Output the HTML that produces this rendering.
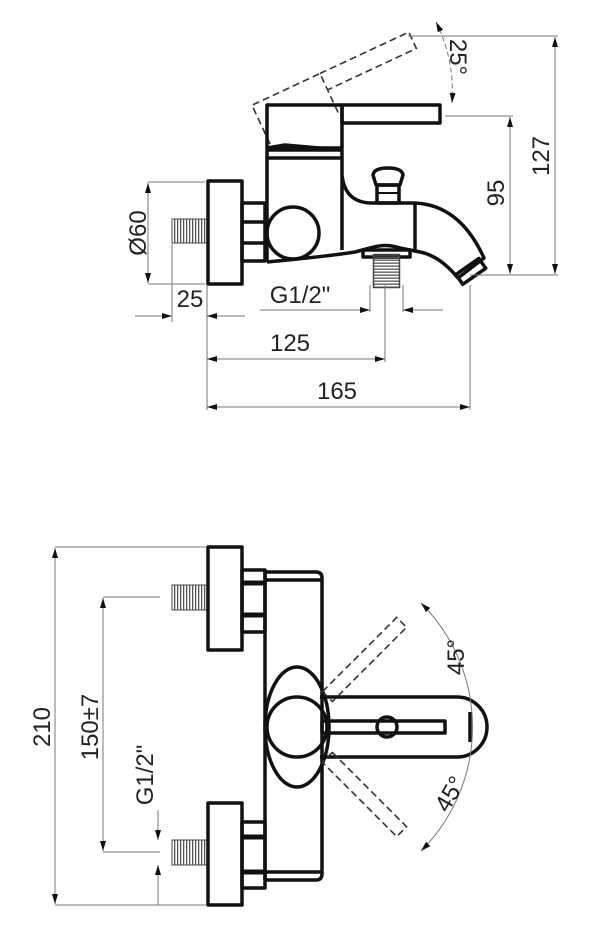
<!DOCTYPE html>
<html><head><meta charset="utf-8"><style>
body{margin:0;background:#fff}
svg{display:block}
text{font-family:"Liberation Sans",sans-serif;font-size:24px;fill:#222}
.o{fill:none;stroke:#111;stroke-width:3.5;stroke-linejoin:round}
.d{fill:none;stroke:#777;stroke-width:1}
.ds{fill:none;stroke:#333;stroke-width:1.6;stroke-dasharray:7 4}
</style></head><body>
<svg width="600" height="950" viewBox="0 0 600 950">
<defs>
<marker id="a" viewBox="0 0 10 6" refX="10" refY="3" markerWidth="14" markerHeight="6" markerUnits="userSpaceOnUse" orient="auto-start-reverse"><path d="M0,0L10,3L0,6z" fill="#111"/></marker>
<pattern id="th" width="3" height="4" patternUnits="userSpaceOnUse"><rect width="1.3" height="4" fill="#555"/></pattern>
</defs>

<g transform="rotate(-25 260 139)">
<path class="ds" d="M267,148 L267,105 L342,105 L342,148 M342,105 L440,105 L440,123 L342,123"/>
</g>
<rect class="o" x="267" y="105" width="75" height="43"/>
<rect class="o" x="342" y="105" width="98" height="18"/>
<path class="o" d="M267,148 L285,145 L342,150"/>
<rect class="o" x="267" y="150" width="75" height="8"/>
<rect x="172" y="219" width="35" height="24" fill="url(#th)" stroke="#444" stroke-width="1"/>
<rect class="o" x="208" y="181" width="34" height="103"/>
<rect class="o" x="242" y="203" width="23" height="58"/>
<line class="o" x1="242" y1="222" x2="265" y2="222" stroke-width="2"/>
<line class="o" x1="242" y1="243" x2="265" y2="243" stroke-width="2"/>
<path class="o" d="M267,158 L267,262 M342,158 L342,250 M342,175 Q345,203 372,203 L415,203 Q460,205 484,258 L458,278 Q440,256 420,252 L400,248 Q385,243 370,248 L355,252 Q330,256 267,262"/>
<line class="o" x1="415" y1="203" x2="415" y2="252"/>
<circle class="o" cx="293" cy="233" r="26"/>
<g transform="rotate(-35 470 272)"><rect class="o" x="457" y="266" width="28" height="12"/></g>
<path class="o" d="M376,185 L373,175 Q374,168 388,168 Q402,168 403,175 L400,185 Z"/>
<rect class="o" x="377" y="185" width="22" height="18"/>
<line x1="378" y1="193" x2="398" y2="193" stroke="#111" stroke-width="2"/>
<rect class="o" x="363" y="250" width="47" height="7"/>
<rect x="370" y="258" width="33" height="26" fill="url(#th)" stroke="#444" stroke-width="1.5" transform="rotate(90 386.5 271)"/>
<path class="d" d="M148,182 L205,182 M148,284 L205,284"/>
<line class="d" x1="148" y1="183" x2="148" y2="283" marker-start="url(#a)" marker-end="url(#a)"/>
<text transform="translate(146,233) rotate(-90)" text-anchor="middle">Ø60</text>
<path class="d" d="M172,244 L172,322 M207,286 L207,410"/>
<line class="d" x1="135" y1="316" x2="172" y2="316" marker-end="url(#a)"/>
<line class="d" x1="245" y1="316" x2="207" y2="316" marker-end="url(#a)"/>
<text x="190" y="307" text-anchor="middle">25</text>
<path class="d" d="M370,285 L370,312 M403,285 L403,312 M385,285 L385,362 M470,285 L470,410"/>
<line class="d" x1="260" y1="310" x2="370" y2="310" marker-end="url(#a)"/>
<line class="d" x1="443" y1="310" x2="403" y2="310" marker-end="url(#a)"/>
<text x="300" y="303" text-anchor="middle">G1/2"</text>
<line class="d" x1="207" y1="359" x2="385" y2="359" marker-start="url(#a)" marker-end="url(#a)"/>
<text x="290" y="351" text-anchor="middle">125</text>
<line class="d" x1="207" y1="407" x2="470" y2="407" marker-start="url(#a)" marker-end="url(#a)"/>
<text x="337" y="399" text-anchor="middle">165</text>
<path class="d" d="M408,36 L558,36 M445,116 L513,116 M470,275 L558,275"/>
<line class="d" x1="555" y1="37" x2="555" y2="274" marker-start="url(#a)" marker-end="url(#a)"/>
<line class="d" x1="510" y1="117" x2="510" y2="274" marker-start="url(#a)" marker-end="url(#a)"/>
<text transform="translate(549,156) rotate(-90)" text-anchor="middle">127</text>
<text transform="translate(504,193) rotate(-90)" text-anchor="middle">95</text>
<path class="d" stroke-dasharray="5 3" d="M436,22 Q455,60 452,103" marker-start="url(#a)" marker-end="url(#a)"/>
<text transform="translate(450,57) rotate(90)" text-anchor="middle">25°</text>

<rect x="172" y="585" width="35" height="25" fill="url(#th)" stroke="#444" stroke-width="1"/>
<rect x="172" y="840" width="35" height="25" fill="url(#th)" stroke="#444" stroke-width="1"/>
<rect class="o" x="208" y="547" width="34" height="103"/>
<rect class="o" x="208" y="803" width="34" height="102"/>
<rect class="o" x="242" y="570" width="23" height="62"/>
<rect class="o" x="242" y="822" width="23" height="66"/>
<path stroke="#111" stroke-width="5" d="M242,583 L265,583 M242,615 L265,615 M242,837 L265,837 M242,872 L265,872"/>
<path class="o" d="M265,572 L316,572 Q322,572 322,578 L322,874 Q322,880 316,880 L265,880 M265,580 L322,580 M265,872 L322,872 M265,572 L265,880"/>
<path class="o" d="M320,697 L457,697 A30,30 0 0 1 457,757 L320,757"/>
<line class="o" x1="470" y1="712" x2="470" y2="742" stroke-width="2.5"/>
<ellipse class="o" cx="297" cy="727" rx="32" ry="60" fill="#fff"/>
<circle class="o" cx="297" cy="727" r="30"/>
<circle class="o" cx="387" cy="727" r="10" fill="#fff"/>
<rect class="o" x="322" y="721" width="123" height="12" fill="#fff"/>
<g transform="rotate(-45 297 727)"><rect class="ds" x="340" y="720" width="105" height="14"/></g>
<g transform="rotate(45 297 727)"><rect class="ds" x="340" y="720" width="105" height="14"/></g>
<path class="d" d="M421,603 A175,175 0 0 1 421,851" marker-start="url(#a)" marker-end="url(#a)"/>
<text transform="translate(464,657) rotate(-90)" text-anchor="middle">45°</text>
<text transform="translate(457,798) rotate(-60)" text-anchor="middle">45°</text>
<path class="d" d="M55,547 L207,547 M55,905 L207,905 M103,597 L160,597 M103,852 L160,852 M158,810 L158,840 M158,865 L158,905"/>
<line class="d" x1="55" y1="548" x2="55" y2="904" marker-start="url(#a)" marker-end="url(#a)"/>
<line class="d" x1="103" y1="598" x2="103" y2="851" marker-start="url(#a)" marker-end="url(#a)"/>
<line class="d" x1="158" y1="820" x2="158" y2="840" marker-end="url(#a)"/>
<line class="d" x1="158" y1="885" x2="158" y2="865" marker-end="url(#a)"/>
<text transform="translate(50,727) rotate(-90)" text-anchor="middle">210</text>
<text transform="translate(98,727) rotate(-90)" text-anchor="middle">150±7</text>
<text transform="translate(153,775) rotate(-90)" text-anchor="middle">G1/2"</text>
</svg>
</body></html>
